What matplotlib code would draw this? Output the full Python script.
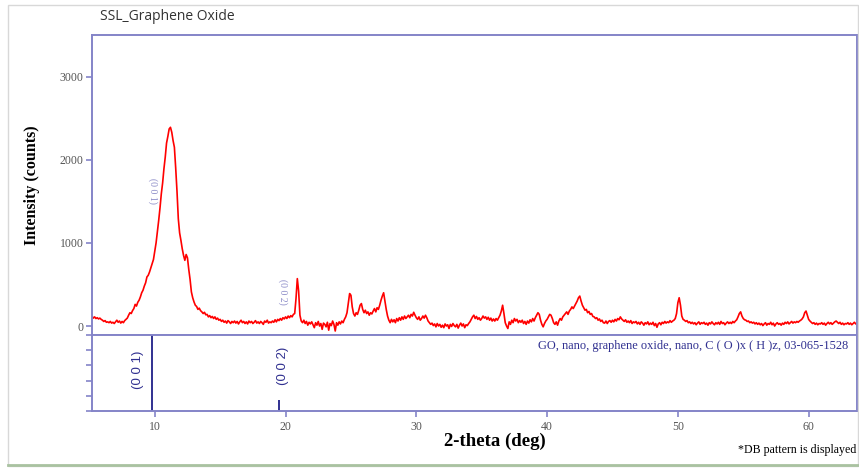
import numpy as np
import matplotlib
matplotlib.use("Agg")
import matplotlib.pyplot as plt
from matplotlib.patches import Rectangle
from matplotlib.lines import Line2D

# scan: 5.0 - 63.9 deg, 0.1 deg step
two_theta = np.round(np.arange(5.0, 63.95, 0.1), 1)

counts = [
    120, 105, 115, 95, 110, 90, 100, 85, 95, 80,            # 5
    70, 55, 65, 45, 50, 40, 55, 35, 45, 30,                 # 6
    50, 70, 45, 60, 35, 55, 40, 65, 80, 95,                 # 7
    130, 160, 150, 185, 210, 260, 240, 285, 310, 350,       # 8
    400, 430, 480, 520, 590, 610, 650, 700, 750, 800,       # 9
    900, 1000, 1130, 1270, 1420, 1590, 1720, 1890, 2030, 2200,  # 10
    2280, 2370, 2390, 2330, 2230, 2150, 1900, 1620, 1290, 1120,  # 11
    1030, 930, 850, 790, 860, 820, 680, 560, 410, 340,      # 12
    290, 250, 235, 200, 215, 185, 170, 150, 165, 135,       # 13
    140, 110, 125, 100, 115, 90, 110, 80, 95, 70,           # 14
    80, 55, 70, 45, 60, 35, 65, 50, 30, 55,                 # 15
    40, 60, 35, 55, 25, 50, 70, 40, 55, 30,                 # 16
    50, 25, 60, 40, 55, 30, 45, 65, 35, 50,                 # 17
    30, 55, 40, 20, 60, 45, 70, 35, 50, 40,                 # 18
    60, 45, 75, 50, 80, 65, 90, 70, 100, 85,                # 19
    110, 90, 120, 100, 125, 110, 140, 150, 330, 570,        # 20
    420, 130, 60, 40, 70, 30, 55, 10, 45, 25,               # 21
    50, 15, -20, 40, 10, 55, 0, 30, -40, 35,                # 22
    20, -10, 45, -50, 30, 5, 60, 20, -60, 40,               # 23
    10, 50, 25, 60, 40, 80, 110, 160, 280, 390,             # 24
    370, 230, 150, 120, 160, 140, 190, 250, 270, 200,       # 25
    160, 190, 150, 170, 130, 160, 145, 180, 210, 170,       # 26
    220, 200, 250, 310, 360, 400, 300, 200, 120, 70,        # 27
    40, 80, 50, 75, 40, 90, 60, 100, 70, 110,               # 28
    80, 120, 90, 110, 130, 100, 140, 120, 165, 130,         # 29
    100, 80, 110, 70, 90, 120, 95, 130, 100, 60,            # 30
    40, 20, 35, 5, 25, -10, 30, 0, 20, -15,                 # 31
    10, -20, 25, 0, 15, -30, 20, -5, 30, 5,                 # 32
    -10, 20, -25, 10, 35, 0, 25, -20, 15, 5,                # 33
    30, 50, 80, 110, 130, 90, 115, 80, 100, 70,             # 34
    90, 120, 95, 110, 80, 105, 70, 95, 60, 85,              # 35
    60, 90, 70, 100, 130, 180, 250, 150, 40, 0,             # 36
    -30, 50, 20, 70, 40, 90, 60, 80, 40, 65,                # 37
    45, 70, 30, 55, 20, 60, 35, 75, 50, 90,                 # 38
    60, 100, 130, 160, 140, 70, 20, -10, 30, 60,            # 39
    80, 110, 140, 130, 90, 40, 20, 50, 10, 60,              # 40
    90, 70, 110, 130, 150, 170, 140, 180, 200, 230,         # 41
    210, 240, 270, 300, 340, 360, 300, 250, 220, 190,       # 42
    200, 160, 175, 140, 150, 115, 110, 90, 100, 70,         # 43
    85, 55, 70, 40, 35, 60, 30, 55, 65, 45,                 # 44
    70, 50, 80, 60, 90, 75, 110, 85, 70, 55,                # 45
    75, 45, 60, 40, 65, 30, 50, 40, 55, 25,                 # 46
    45, 20, 50, 35, 10, 40, 25, 50, 15, 35,                 # 47
    20, 45, 5, 30, -15, 25, 40, 15, 45, 30,                 # 48
    55, 35, 50, 40, 65, 45, 60, 70, 90, 150,                # 49
    280, 340, 250, 120, 80, 70, 55, 65, 40, 50,             # 50
    30, 45, 25, 40, 15, 35, 50, 20, 40, 30,                 # 51
    45, 20, 35, 10, 40, 25, 50, 30, 15, 40,                 # 52
    25, 45, 20, 55, 30, 40, 15, 35, 50, 30,                 # 53
    45, 30, 55, 40, 60, 75, 110, 150, 170, 120,             # 54
    90, 75, 70, 55, 60, 40, 50, 35, 45, 25,                 # 55
    40, 20, 35, 15, 30, 5, 25, 40, 10, 30,                  # 56
    20, 45, 15, 35, 0, 25, 40, 20, 30, 10,                  # 57
    35, 20, 45, 30, 50, 25, 40, 55, 35, 50,                 # 58
    40, 55, 45, 60, 70, 85, 110, 160, 180, 130,             # 59
    80, 60, 45, 30, 40, 20, 35, 15, 30, 25,                 # 60
    40, 20, 35, 10, 30, 45, 25, 40, 20, 35,                 # 61
    50, 60, 45, 30, 45, 20, 35, 15, 30, 25,                 # 62
    40, 20, 35, 15, 30, 45, 25, 35, 20, 30,                 # 63
]

# reference pattern GO 03-065-1528
ref_pos = [9.8, 19.5]
ref_int = [1.0, 0.14]
ref_hkl = ["(0 0 1)", "(0 0 2)"]

y_ticks = [0, 1000, 2000, 3000]
x_ticks = [10, 20, 30, 40, 50, 60]

frame_col = "#8484c8"
label_col = "#303090"
tick_txt = "#555555"
serif = "Liberation Serif"

fig = plt.figure(figsize=(8.59, 4.68), dpi=100)

# outer frame of the window
fig.patches.append(Rectangle((0.009, 0.004), 0.99, 0.985, transform=fig.transFigure,
                             fill=False, edgecolor="#d8d8d8", lw=1.0))
fig.lines.append(Line2D([0.009, 1.0], [0.006, 0.006], transform=fig.transFigure,
                        color="#a9c2a0", lw=2.0))

ax = fig.add_axes([0.1071, 0.2842, 0.8906, 0.6410])
ax2 = fig.add_axes([0.1071, 0.1218, 0.8906, 0.1624], sharex=ax)

ax.plot(two_theta, counts, color="#ff0000", lw=1.2)
ax.set_xlim(5.2, 63.7)
ax.set_ylim(-108, 3500)
ax.set_yticks(y_ticks)
ax.set_yticklabels([str(v) for v in y_ticks], fontfamily=serif, fontsize=8.5, color=tick_txt)
ax.tick_params(axis="y", direction="out", length=4, width=1.2, color=frame_col, pad=2)
ax.tick_params(axis="x", bottom=False, labelbottom=False)
for s in ax.spines.values():
    s.set_color(frame_col)
    s.set_linewidth(1.4)
ax.set_ylabel("Intensity (counts)", fontfamily=serif, fontweight="bold", fontsize=11.5,
              labelpad=14)

# hkl tags on the measured pattern
ax.text(9.85, 1630, ref_hkl[0], rotation=-90, ha="center", va="center",
        fontfamily=serif, fontsize=7, color="#8c8cc8")
ax.text(19.77, 410, ref_hkl[1], rotation=-90, ha="center", va="center",
        fontfamily=serif, fontsize=7, color="#8c8cc8")

# stick pattern panel
ax2.vlines(ref_pos, 0, ref_int, color=label_col, lw=1.4)
ax2.set_ylim(0, 1)
ax2.set_yticks([0, 0.2, 0.4, 0.6, 0.8, 1.0])
ax2.set_yticklabels([])
ax2.set_xticks(x_ticks)
ax2.set_xticklabels([str(v) for v in x_ticks], fontfamily=serif, fontsize=8.5, color=tick_txt)
ax2.tick_params(axis="both", direction="out", length=4, width=1.2, color=frame_col, pad=3)
for s in ax2.spines.values():
    s.set_color(frame_col)
    s.set_linewidth(1.4)
ax2.text(8.7, 0.54, ref_hkl[0], rotation=90, ha="center", va="center",
         fontfamily="Liberation Sans", fontsize=9.5, color=label_col)
ax2.text(19.77, 0.6, ref_hkl[1], rotation=90, ha="center", va="center",
         fontfamily="Liberation Sans", fontsize=9.5, color=label_col)
ax2.text(0.988, 0.93, "GO, nano, graphene oxide, nano, C ( O )x ( H )z, 03-065-1528",
         transform=ax2.transAxes, ha="right", va="top", fontfamily=serif,
         fontsize=8.9, color=label_col)

fig.text(495 / 859, 1 - 441 / 468, "2-theta (deg)", ha="center", va="center",
         fontfamily=serif, fontweight="bold", fontsize=13.5)
fig.text(0.997, 1 - 450 / 468, "*DB pattern is displayed", ha="right", va="center",
         fontfamily=serif, fontsize=8.6)
fig.text(100 / 859, 1 - 17 / 468, "SSL_Graphene Oxide", ha="left", va="center",
         fontfamily="Open Sans", fontsize=10, color="#333333")

fig.savefig("out.png", dpi=100)
